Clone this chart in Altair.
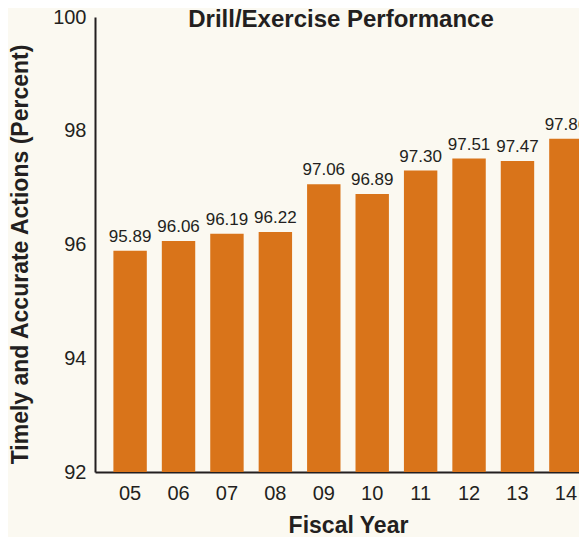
import altair as alt
import pandas as pd

years = ["05", "06", "07", "08", "09", "10", "11", "12", "13", "14"]
values = [95.89, 96.06, 96.19, 96.22, 97.06, 96.89, 97.30, 97.51, 97.47, 97.86]
labels = ["95.89", "96.06", "96.19", "96.22", "97.06", "96.89", "97.30", "97.51", "97.47", "97.86"]
y_ticks = [92, 94, 96, 98, 100]

df = pd.DataFrame({"year": years, "value": values, "label": labels})

FONT = "Liberation Sans"
ORANGE = "#D9741A"
INK = "#231F20"

x = alt.X(
    "year:N",
    sort=years,
    scale=alt.Scale(range=[0, 506], paddingInner=0.31, paddingOuter=0.38),
    axis=alt.Axis(
        title="Fiscal Year",
        labelAngle=0,
        ticks=False,
        labelPadding=11,
        labelFontSize=20,
        labelFont=FONT,
        labelColor=INK,
        titleFont=FONT,
        titleFontSize=23,
        titleFontWeight="bold",
        titleColor=INK,
        titlePadding=11,
        domainColor=INK,
        domainWidth=2,
    ),
)

y = alt.Y(
    "value:Q",
    scale=alt.Scale(domain=[92, 100], zero=False, nice=False),
    axis=alt.Axis(
        title="Timely and Accurate Actions (Percent)",
        values=y_ticks,
        format="d",
        grid=False,
        ticks=False,
        labelPadding=9,
        labelFontSize=20,
        labelFont=FONT,
        labelColor=INK,
        titleFont=FONT,
        titleFontSize=23,
        titleFontWeight="bold",
        titleColor=INK,
        titlePadding=20,
        titleY=237,
        domainColor=INK,
        domainWidth=2,
    ),
)

bars = alt.Chart(df).mark_bar(color=ORANGE, clip=False).encode(
    x=x,
    y=y,
    y2=alt.datum(92),
)

text = alt.Chart(df).mark_text(
    baseline="alphabetic", dy=-9, fontSize=17, font=FONT, color=INK
).encode(
    x=alt.X("year:N", sort=years),
    y=alt.Y("value:Q"),
    text="label:N",
)

chart = (
    alt.layer(bars, text)
    .properties(
        width=484,
        height=455,
        padding={"left": 87, "top": 9, "right": 0, "bottom": 65},
        autosize=alt.AutoSizeParams(type="none"),
        background="#FBF9F1",
        title=alt.TitleParams(
            "Drill/Exercise Performance",
            font=FONT,
            fontSize=24,
            fontWeight="bold",
            color=INK,
            anchor="middle",
            baseline="alphabetic",
            offset=0,
            dy=44,
            dx=4,
        ),
    )
    .configure_view(stroke=None)
)

chart.save("out.html", embed_options={"renderer": "svg", "actions": False})
